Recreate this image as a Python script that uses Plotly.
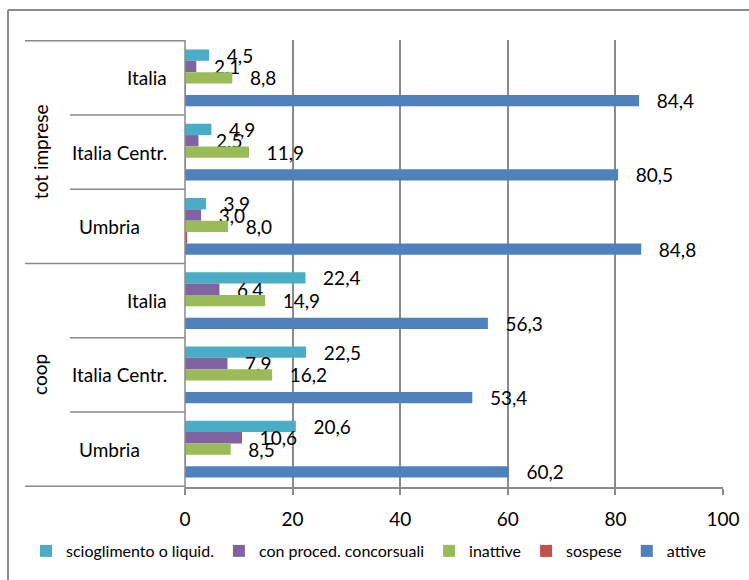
import plotly.graph_objects as go

# ---------------- data ----------------
groups = ["tot imprese", "tot imprese", "tot imprese", "coop", "coop", "coop"]
areas = ["Italia", "Italia Centr.", "Umbria", "Italia", "Italia Centr.", "Umbria"]
series_names = ["scioglimento o liquid.", "con proced. concorsuali", "inattive", "sospese", "attive"]
scioglimento = [4.5, 4.9, 3.9, 22.4, 22.5, 20.6]
concorsuali = [2.1, 2.5, 3.0, 6.4, 7.9, 10.6]
inattive = [8.8, 11.9, 8.0, 14.9, 16.2, 8.5]
sospese = [0.1, 0.1, 0.3, 0.0, 0.0, 0.1]
attive = [84.4, 80.5, 84.8, 56.3, 53.4, 60.2]
x_ticks = [0, 20, 40, 60, 80, 100]

# ---------------- style ----------------
colors = ["#4BACC6", "#8064A2", "#9BBB59", "#C0504D", "#4F81BD"]
show_labels = [True, True, True, False, True]
FONT = "Lato"
FS = 19
GRID = "#8a8a8a"

W, H = 749, 580
L, R, T, B = 185, 26, 40, 93
PW, PH = W - L - R, H - T - B


def px2x(px):
    return (px - L) / PW


def py2y(py):
    return (H - B - py) / PH


cats = [f"{g} | {a}" for g, a in zip(groups, areas)]
values = [scioglimento, concorsuali, inattive, sospese, attive]

fig = go.Figure()
pad = "\u00a0\u00a0\u00a0"
for name, vals, col, lab in zip(series_names, values, colors, show_labels):
    fig.add_trace(go.Bar(
        y=cats, x=vals, name=name, orientation="h",
        marker=dict(color=col, line=dict(width=0)),
        texttemplate=(pad + "%{x:.1f}") if lab else None,
        textposition="outside" if lab else "none",
        textfont=dict(family=FONT, size=FS, color="black"),
        constraintext="none", cliponaxis=False,
        hoverinfo="x+name",
    ))

shapes = []
# chart border (left and top edges visible)
shapes.append(dict(type="line", xref="paper", yref="paper",
                   x0=px2x(8), x1=px2x(8), y0=py2y(10), y1=py2y(600),
                   line=dict(color="#8c8c8c", width=2)))
shapes.append(dict(type="line", xref="paper", yref="paper",
                   x0=px2x(8), x1=px2x(770), y0=py2y(10), y1=py2y(10),
                   line=dict(color="#8c8c8c", width=2)))
# category separators
n = len(cats)
for i in range(n + 1):
    pos = i - 0.5
    is_outer = (i == 0) or (i == n) or (groups[i] != groups[i - 1])
    x0 = px2x(25) if is_outer else px2x(70)
    shapes.append(dict(type="line", xref="paper", yref="y",
                       x0=x0, x1=0, y0=pos, y1=pos,
                       line=dict(color=GRID, width=1.5)))
# y-axis line (value 0) slightly extended below
shapes.append(dict(type="line", xref="paper", yref="paper",
                   x0=0, x1=0, y0=py2y(494), y1=1,
                   line=dict(color=GRID, width=1.5)))

annotations = []
label_x = {"Italia": 147, "Italia Centr.": 119, "Umbria": 109}
for c, a in zip(cats, areas):
    annotations.append(dict(xref="paper", yref="y", x=px2x(label_x[a]), y=c,
                            text=a, showarrow=False, xanchor="center", yanchor="middle",
                            font=dict(family=FONT, size=FS, color="black")))
seen = []
for g in groups:
    if g in seen:
        continue
    seen.append(g)
    idx = [i for i, gg in enumerate(groups) if gg == g]
    mid = (idx[0] + idx[-1]) / 2
    annotations.append(dict(xref="paper", yref="y", x=px2x(40), y=mid,
                            text=g, showarrow=False, textangle=-90,
                            xanchor="center", yanchor="middle",
                            font=dict(family=FONT, size=FS, color="black")))

fig.update_layout(
    width=W, height=H,
    margin=dict(l=L, r=R, t=T, b=B, pad=0, autoexpand=False),
    paper_bgcolor="white", plot_bgcolor="white",
    barmode="group", bargap=0.235, bargroupgap=0,
    separators=",.",
    font=dict(family=FONT, size=FS, color="black"),
    xaxis=dict(range=[0, 100], tickvals=x_ticks, ticktext=[str(v) for v in x_ticks],
               showgrid=True, gridcolor=GRID, gridwidth=1.5,
               showline=True, linecolor=GRID, linewidth=1.5,
               ticks="outside", ticklen=6, tickcolor=GRID, tickwidth=1.5,
               ticklabelstandoff=8,
               zeroline=False, tickfont=dict(family=FONT, size=FS, color="black")),
    yaxis=dict(type="category", categoryorder="array", categoryarray=cats,
               autorange="reversed", showticklabels=False, showgrid=False,
               showline=False, zeroline=False, ticks=""),
    legend=dict(orientation="h", x=px2x(26), xanchor="left",
                y=py2y(551), yanchor="middle", traceorder="normal",
                font=dict(family=FONT, size=16, color="black"),
                itemwidth=30, bgcolor="rgba(0,0,0,0)"),
    shapes=shapes, annotations=annotations,
    showlegend=True,
)

fig.write_html("out.html", config={"displayModeBar": False},
               post_script="document.body.style.margin='0';document.body.style.overflow='hidden';")
